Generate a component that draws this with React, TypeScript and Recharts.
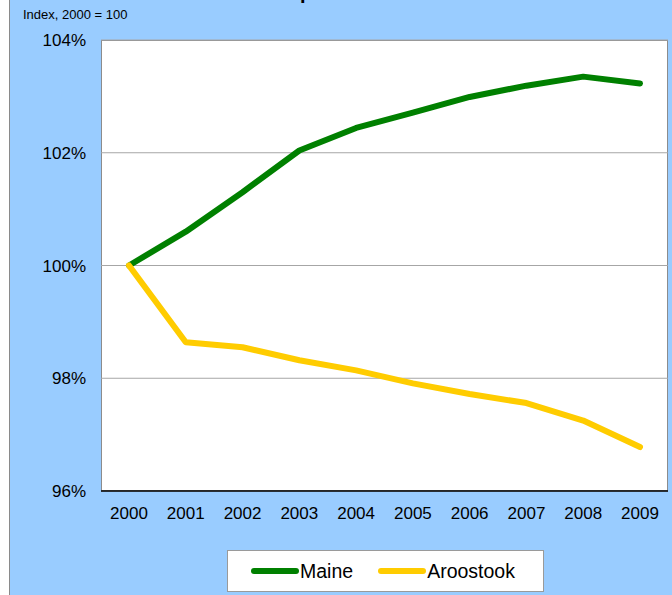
import { LineChart, Line, XAxis, YAxis, CartesianGrid } from 'recharts';

const years = ['2000', '2001', '2002', '2003', '2004', '2005', '2006', '2007', '2008', '2009'];
const maine = [100, 100.6, 101.3, 102.04, 102.44, 102.71, 102.99, 103.19, 103.35, 103.23];
const aroostook = [100, 98.64, 98.55, 98.32, 98.14, 97.91, 97.72, 97.56, 97.25, 96.78];
const yTicks = [96, 98, 100, 102, 104];

const series = [
  { key: 'maine', name: 'Maine', color: '#008000' },
  { key: 'aroostook', name: 'Aroostook', color: '#FFCC00' },
];

const data = years.map((year, i) => ({ year, maine: maine[i], aroostook: aroostook[i] }));

const font = '"Liberation Sans", Arial, sans-serif';

export default function App() {
  return (
    <div
      style={{
        position: 'absolute',
        left: 9,
        top: 0,
        width: 662,
        height: 595,
        background: '#99CCFF',
        borderLeft: '1px solid #8a8a8a',
        overflow: 'hidden',
        fontFamily: font,
      }}
    >
      {/* title, cut off at the top edge as in the source */}
      <div
        style={{
          position: 'absolute',
          left: 0,
          width: 690,
          top: -19,
          textAlign: 'center',
          fontWeight: 'bold',
          fontSize: 20,
          color: '#000',
        }}
      >
        Population Index
      </div>
      <div style={{ position: 'absolute', left: 13, top: 7, fontSize: 13, color: '#000' }}>
        Index, 2000 = 100
      </div>
      {/* plot area background and border */}
      <div
        style={{
          position: 'absolute',
          left: 91,
          top: 40,
          width: 567,
          height: 451,
          background: '#fff',
          border: '1px solid #8c8c8c',
          boxSizing: 'border-box',
        }}
      />
      <div style={{ position: 'absolute', left: -2, top: 0 }}>
        <LineChart width={664} height={595} data={data} margin={{ top: 40, right: 4, bottom: 64, left: 33 }}>
          <CartesianGrid vertical={false} stroke="#a6a6a6" strokeWidth={1} />
          <XAxis
            dataKey="year"
            padding={{ left: 28, right: 28 }}
            axisLine={{ stroke: '#000', strokeWidth: 1.5 }}
            tickLine={false}
            tickMargin={10}
            height={40}
            tick={{ fill: '#000', fontSize: 17, fontFamily: font }}
            interval={0}
          />
          <YAxis
            domain={[96, 104]}
            ticks={yTicks}
            axisLine={false}
            tickLine={false}
            tickMargin={9}
            width={60}
            tickFormatter={(v: number) => `${v}%`}
            tick={{ fill: '#000', fontSize: 17, fontFamily: font }}
          />
          {series.map((s) => (
            <Line
              key={s.key}
              type="linear"
              dataKey={s.key}
              name={s.name}
              stroke={s.color}
              strokeWidth={6}
              strokeLinecap="round"
              strokeLinejoin="round"
              dot={false}
              isAnimationActive={false}
            />
          ))}
        </LineChart>
      </div>
      {/* legend */}
      <div
        style={{
          position: 'absolute',
          left: 217,
          top: 550,
          width: 317,
          height: 42,
          background: '#fff',
          border: '1px solid #9a9a9a',
          boxSizing: 'border-box',
          display: 'flex',
          alignItems: 'center',
          paddingLeft: 22,
          fontSize: 19.5,
          color: '#000',
        }}
      >
        {series.map((s, i) => (
          <div key={s.key} style={{ display: 'flex', alignItems: 'center', marginLeft: i === 0 ? 0 : 24 }}>
            <svg width={50} height={10}>
              <line x1={4} y1={5} x2={46} y2={5} stroke={s.color} strokeWidth={6} strokeLinecap="round" />
            </svg>
            <span style={{ marginLeft: 0 }}>{s.name}</span>
          </div>
        ))}
      </div>
    </div>
  );
}
